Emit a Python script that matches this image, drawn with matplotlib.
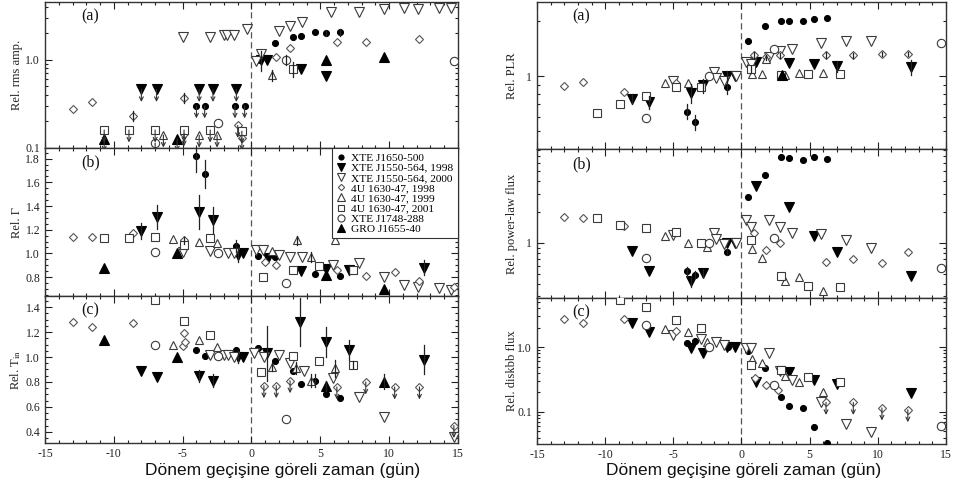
import matplotlib
matplotlib.use('Agg')
import matplotlib.pyplot as plt
import matplotlib.transforms as mtransforms
from matplotlib.ticker import MultipleLocator, LogLocator, NullFormatter, FixedLocator, FixedFormatter
from matplotlib.lines import Line2D

plt.rcParams['font.family'] = ['Liberation Serif', 'DejaVu Serif']
plt.rcParams['mathtext.fontset'] = 'stix'

# ---------------- data: (time, value, error) ; upper limits: (time, value) ----------------
series_keys = ['J1650', 'J1550a', 'J1550b', 'U98', 'U99', 'U01', 'J1748', 'GRO']
legend_labels = ['XTE J1650-500', 'XTE J1550-564, 1998', 'XTE J1550-564, 2000',
                 '4U 1630-47, 1998', '4U 1630-47, 1999', '4U 1630-47, 2001',
                 'XTE J1748-288', 'GRO J1655-40']

# Left (a) rel. rms amplitude
la_J1650 = [(0.5, 1.0, 0), (1.7, 1.53, 0), (3.0, 1.79, 0), (3.6, 1.84, 0), (4.6, 2.04, 0), (5.4, 2.0, 0.15), (6.4, 2.04, 0.2)]
la_J1650_ul = [(-4.0, 0.30), (-3.4, 0.30), (-1.2, 0.30), (-0.5, 0.30)]
la_J1550a = [(0.7, 1.0, 0.25), (1.1, 1.0, 0), (3.6, 0.79, 0), (5.4, 0.65, 0)]
la_J1550a_ul = [(-8.0, 0.46), (-6.9, 0.46), (-3.8, 0.46), (-2.8, 0.46), (-1.1, 0.46)]
la_J1550b = [(-5.0, 1.79, 0), (-3.0, 1.79, 0), (-2.0, 1.89, 0), (-1.8, 1.89, 0), (-1.3, 1.89, 0), (-0.3, 2.2, 0),
             (0.3, 0.97, 0), (0.7, 1.17, 0), (2.0, 2.1, 0), (2.8, 2.4, 0), (3.7, 2.66, 0), (5.8, 3.47, 0),
             (7.8, 3.47, 0), (9.6, 3.75, 0), (11.1, 3.85, 0), (12.1, 3.75, 0), (13.6, 3.8, 0), (14.5, 3.85, 0)]
la_U98 = [(-13.0, 0.28, 0), (-11.6, 0.33, 0), (-8.6, 0.23, 0.03), (-4.9, 0.37, 0.05), (1.8, 1.08, 0),
          (2.8, 1.34, 0), (6.2, 1.57, 0), (8.3, 1.57, 0), (12.2, 1.7, 0)]
la_U98_ul = [(-4.9, 0.145), (-1.0, 0.18), (-0.7, 0.13)]
la_U99 = [(1.5, 0.67, 0.1)]
la_U99_ul = [(-6.4, 0.14), (-3.8, 0.14), (-2.5, 0.14)]
la_U01 = [(3.0, 0.79, 0.15)]
la_U01_ul = [(-10.7, 0.16), (-8.9, 0.16), (-7.0, 0.16), (-4.9, 0.16), (-3.0, 0.16), (-0.7, 0.155)]
la_J1748 = [(-2.4, 0.19, 0), (2.5, 1.0, 0.12), (14.7, 0.97, 0)]
la_J1748_ul = [(-7.0, 0.114)]
la_GRO = [(5.4, 1.0, 0), (9.6, 1.08, 0)]
la_GRO_ul = [(-10.7, 0.127), (-5.4, 0.127)]

# Left (b) rel. Gamma
lb_J1650 = [(-4.0, 1.82, 0.13), (-3.4, 1.67, 0.12), (-1.1, 1.06, 0.05), (0.5, 0.98, 0), (1.7, 0.97, 0),
            (3.0, 0.86, 0), (4.6, 0.83, 0), (6.4, 0.81, 0)]
lb_J1550a = [(-8.0, 1.19, 0.07), (-6.9, 1.31, 0.1), (-3.8, 1.35, 0.14), (-2.8, 1.28, 0.11), (-1.0, 0.99, 0.06),
             (-0.6, 1.0, 0), (1.2, 0.96, 0), (3.6, 0.85, 0), (5.4, 0.87, 0), (7.1, 0.86, 0.04), (12.5, 0.88, 0.06)]
lb_J1550b = [(-5.0, 1.01, 0), (-3.0, 1.02, 0), (-1.7, 1.0, 0), (-1.3, 1.0, 0), (0.3, 1.03, 0), (0.8, 1.03, 0),
             (2.0, 0.99, 0), (2.8, 0.97, 0), (3.7, 0.97, 0), (5.9, 0.9, 0), (7.8, 0.92, 0), (9.6, 0.8, 0),
             (11.1, 0.73, 0), (12.1, 0.72, 0), (13.6, 0.71, 0), (14.5, 0.69, 0)]
lb_U98 = [(-13.0, 1.14, 0), (-11.6, 1.14, 0), (-8.6, 1.17, 0), (-4.9, 1.11, 0.03), (1.0, 0.93, 0), (1.8, 0.9, 0),
          (6.2, 0.86, 0), (8.3, 0.81, 0), (10.4, 0.84, 0), (12.2, 0.77, 0), (14.7, 0.72, 0)]
lb_U99 = [(-5.7, 1.12, 0), (-3.8, 1.10, 0), (-2.5, 1.09, 0), (1.5, 1.02, 0), (3.3, 1.11, 0.04), (4.3, 0.97, 0.04),
          (6.1, 1.11, 0)]
lb_U01 = [(-10.7, 1.13, 0), (-8.9, 1.13, 0), (-7.0, 1.14, 0), (-4.9, 1.07, 0), (-3.0, 1.13, 0), (0.8, 0.8, 0),
          (3.0, 0.86, 0), (4.9, 0.89, 0), (7.4, 0.86, 0)]
lb_J1748 = [(-7.0, 1.01, 0), (-2.4, 1.0, 0), (2.5, 0.75, 0)]
lb_GRO = [(-10.7, 0.88, 0), (-5.4, 1.0, 0), (5.4, 0.82, 0), (9.6, 0.70, 0)]

# Left (c) rel. T_in
lc_J1650 = [(-4.0, 1.06, 0), (-3.4, 1.01, 0), (-1.1, 1.06, 0), (0.5, 1.07, 0), (1.7, 0.97, 0), (3.0, 0.89, 0),
            (3.6, 0.78, 0), (4.6, 0.81, 0.05), (5.4, 0.70, 0), (6.4, 0.67, 0)]
lc_J1550a = [(-8.0, 0.89, 0), (-6.9, 0.84, 0), (-3.8, 0.85, 0.05), (-2.8, 0.81, 0.05), (-1.0, 1.0, 0.05),
             (-0.6, 1.0, 0), (1.1, 1.03, 0.22), (3.5, 1.28, 0.19), (5.4, 1.12, 0.12), (7.1, 1.06, 0.08),
             (12.5, 0.98, 0.12)]
lc_J1550b = [(-3.0, 1.02, 0), (-2.0, 1.02, 0), (-1.7, 1.02, 0), (-1.3, 1.0, 0), (0.2, 1.03, 0), (0.9, 1.0, 0),
             (2.0, 1.02, 0), (2.8, 0.95, 0), (3.8, 0.89, 0), (5.9, 0.83, 0), (7.8, 0.68, 0), (9.6, 0.52, 0),
             (14.7, 0.36, 0)]
lc_U98 = [(-13.0, 1.28, 0), (-11.6, 1.24, 0), (-8.6, 1.27, 0), (-4.9, 1.19, 0), (-5.0, 1.09, 0), (-4.8, 1.12, 0)]
lc_U98_ul = [(0.9, 0.77), (1.8, 0.77), (2.8, 0.81), (6.2, 0.76), (8.3, 0.80), (10.4, 0.76), (12.2, 0.76), (14.7, 0.45)]
lc_U99 = [(-5.7, 1.1, 0), (-3.8, 1.14, 0), (-2.5, 1.08, 0), (1.5, 0.92, 0.03), (3.2, 0.91, 0.05),
          (4.3, 0.81, 0.05), (6.1, 0.91, 0.07)]
lc_U01 = [(-7.0, 1.46, 0), (-4.9, 1.29, 0), (-3.0, 1.18, 0), (0.7, 0.88, 0), (3.0, 1.01, 0), (4.9, 0.97, 0),
          (7.4, 0.94, 0.03)]
lc_J1748 = [(-7.0, 1.1, 0), (-2.4, 1.01, 0), (2.5, 0.5, 0)]
lc_GRO = [(-10.7, 1.14, 0), (-5.4, 1.0, 0), (5.4, 0.77, 0.04), (9.6, 0.8, 0.06)]

# Right (a) rel. PLR
ra_J1650 = [(-4.0, 0.64, 0.06), (-3.4, 0.56, 0.05), (-1.1, 0.87, 0.07), (0.5, 1.55, 0), (1.7, 1.88, 0),
            (2.9, 2.0, 0), (3.5, 2.0, 0), (4.5, 2.0, 0), (5.3, 2.05, 0), (6.3, 2.07, 0)]
ra_J1550a = [(-8.0, 0.75, 0.05), (-6.8, 0.72, 0.06), (-3.7, 0.81, 0.1), (-2.8, 0.89, 0.08), (-1.1, 1.0, 0.06),
             (-0.5, 1.0, 0), (1.1, 1.19, 0), (3.5, 1.18, 0), (5.3, 1.16, 0), (7.0, 1.13, 0.08), (12.4, 1.12, 0.1)]
ra_J1550b = [(-5.0, 0.94, 0), (-2.0, 1.05, 0), (-1.9, 0.98, 0), (-1.3, 0.94, 0), (-0.4, 1.0, 0), (0.3, 1.19, 0),
             (0.7, 1.16, 0), (2.0, 1.27, 0), (2.8, 1.37, 0), (3.7, 1.4, 0), (5.8, 1.51, 0), (7.7, 1.55, 0),
             (9.5, 1.55, 0)]
ra_U98 = [(-13.0, 0.88, 0), (-11.6, 0.93, 0), (-8.6, 0.82, 0), (-4.8, 0.92, 0), (0.9, 1.3, 0.06),
          (1.8, 1.27, 0.04), (2.8, 1.3, 0.04), (6.2, 1.3, 0.05), (8.2, 1.3, 0.04), (10.3, 1.32, 0.04),
          (12.2, 1.32, 0.04)]
ra_U99 = [(-5.6, 0.92, 0), (-3.9, 0.92, 0), (0.8, 1.03, 0), (1.5, 1.03, 0), (1.8, 1.24, 0), (3.2, 1.01, 0),
          (4.2, 1.04, 0), (6.0, 1.04, 0)]
ra_U01 = [(-10.6, 0.63, 0), (-8.9, 0.70, 0), (-7.0, 0.78, 0), (-4.8, 0.87, 0), (-3.0, 0.87, 0),
          (0.7, 1.09, 0.05), (2.9, 1.01, 0), (4.9, 1.03, 0), (7.2, 1.03, 0)]
ra_J1748 = [(-7.0, 0.59, 0), (-2.4, 1.0, 0), (2.4, 1.4, 0), (14.6, 1.51, 0)]
ra_GRO = [(3.0, 1.02, 0)]

# Right (b) rel. power-law flux
rb_J1650 = [(-4.8, 1.25, 0), (-4.0, 0.53, 0.05), (-3.4, 0.49, 0.04), (-1.1, 0.82, 0.06), (0.5, 2.8, 0),
            (1.7, 4.6, 0), (2.9, 6.8, 0), (3.5, 6.7, 0), (4.5, 6.4, 0), (5.3, 6.8, 0), (6.3, 6.5, 0)]
rb_J1550a = [(-8.0, 0.84, 0), (-6.8, 0.53, 0), (-3.7, 0.42, 0.05), (-2.8, 0.51, 0.05), (-1.1, 1.0, 0),
             (-0.5, 1.0, 0), (1.1, 3.6, 0), (3.5, 2.24, 0), (5.3, 1.17, 0), (7.0, 0.82, 0), (12.4, 0.47, 0)]
rb_J1550b = [(-5.0, 1.2, 0), (-2.0, 1.25, 0), (-1.9, 1.09, 0), (-1.3, 0.98, 0), (-0.4, 1.0, 0), (0.3, 1.67, 0),
             (0.7, 1.43, 0), (2.0, 1.67, 0), (2.8, 1.43, 0), (3.7, 1.25, 0), (5.8, 1.22, 0), (7.7, 1.07, 0),
             (9.5, 0.89, 0)]
rb_U98 = [(-13.0, 1.79, 0), (-11.6, 1.75, 0), (-8.6, 1.46, 0), (0.9, 1.25, 0), (1.8, 0.85, 0), (2.8, 1.0, 0),
          (6.2, 0.65, 0), (8.2, 0.70, 0), (10.3, 0.64, 0), (12.2, 0.82, 0)]
rb_U99 = [(-5.6, 1.17, 0), (-3.9, 1.0, 0), (-2.5, 0.91, 0), (0.8, 0.87, 0), (1.5, 0.71, 0), (3.2, 0.42, 0),
          (4.2, 0.46, 0), (6.0, 0.34, 0)]
rb_U01 = [(-10.6, 1.75, 0), (-8.9, 1.5, 0), (-7.0, 1.4, 0), (-4.8, 1.28, 0), (-3.0, 1.0, 0), (0.7, 1.07, 0),
          (2.9, 0.47, 0), (4.9, 0.38, 0), (7.2, 0.37, 0)]
rb_J1748 = [(-7.0, 0.71, 0), (-2.4, 1.0, 0), (2.4, 1.12, 0), (14.6, 0.57, 0)]

# Right (c) rel. diskbb flux
rc_J1650 = [(-4.0, 1.15, 0), (-3.4, 1.24, 0), (-1.0, 1.0, 0), (0.5, 0.87, 0), (1.7, 0.48, 0), (2.9, 0.17, 0),
            (3.5, 0.124, 0), (4.5, 0.115, 0), (5.3, 0.059, 0), (6.3, 0.033, 0)]
rc_J1550a = [(-8.0, 2.34, 0), (-6.8, 1.7, 0), (-3.7, 0.96, 0), (-2.8, 0.81, 0), (-1.1, 1.0, 0), (-0.5, 1.0, 0),
             (1.1, 0.29, 0), (3.5, 0.41, 0), (5.3, 0.31, 0), (7.0, 0.27, 0), (12.4, 0.196, 0)]
rc_J1550b = [(-5.0, 1.53, 0), (-3.0, 1.33, 0), (-1.9, 1.19, 0), (-1.3, 1.07, 0), (0.3, 0.96, 0), (0.7, 0.95, 0),
             (2.0, 0.81, 0), (2.8, 0.43, 0), (3.7, 0.31, 0), (5.8, 0.14, 0), (7.7, 0.065, 0), (9.5, 0.049, 0)]
rc_U98 = [(-13.0, 2.7, 0), (-11.6, 2.34, 0), (-8.6, 2.7, 0), (-4.8, 1.76, 0), (1.0, 0.33, 0), (1.8, 0.26, 0),
          (2.7, 0.22, 0)]
rc_U98_ul = [(6.2, 0.14), (8.2, 0.14), (10.3, 0.115), (12.2, 0.108)]
rc_U99 = [(-5.6, 1.9, 0), (-3.9, 1.7, 0), (-2.5, 1.2, 0), (0.8, 0.65, 0), (1.5, 0.57, 0), (3.2, 0.36, 0),
          (4.2, 0.29, 0), (6.0, 0.2, 0)]
rc_U01 = [(-8.9, 5.3, 0), (-7.0, 4.1, 0), (-4.8, 2.6, 0), (-3.0, 1.96, 0), (0.7, 0.53, 0), (2.9, 0.44, 0),
          (4.9, 0.35, 0), (7.2, 0.29, 0)]
rc_J1748 = [(-7.0, 2.2, 0), (-2.4, 1.0, 0), (2.4, 0.26, 0), (14.6, 0.061, 0)]

xlabel_text = 'Dönem geçişine göreli zaman (gün)'

# ---------------- styles ----------------
OPEN = '#3a3a3a'
STY = {
    'J1650': dict(marker='o', ms=4.3, mfc='k', mec='k', mew=0.8),
    'J1550a': dict(marker='v', ms=6.5, mfc='k', mec='k', mew=0.8),
    'J1550b': dict(marker='v', ms=6.5, mfc='white', mec=OPEN, mew=0.8),
    'U98': dict(marker='D', ms=3.8, mfc='white', mec='#555555', mew=0.8),
    'U99': dict(marker='^', ms=6.0, mfc='white', mec=OPEN, mew=0.8),
    'U01': dict(marker='s', ms=5.5, mfc='white', mec=OPEN, mew=0.8),
    'J1748': dict(marker='o', ms=6.0, mfc='white', mec=OPEN, mew=0.8),
    'GRO': dict(marker='^', ms=6.5, mfc='k', mec='k', mew=0.8),
}

fig = plt.figure(figsize=(9.54, 4.92), dpi=100)
W, H = 954.0, 492.0


def add_ax(x0, x1, ytop, ybot):
    return fig.add_axes([x0 / W, 1 - ybot / H, (x1 - x0) / W, (ybot - ytop) / H])


axL = [add_ax(45, 458, 2, 148), add_ax(45, 458, 148, 296), add_ax(45, 458, 296, 443)]
axR = [add_ax(537, 946, 2, 149), add_ax(537, 946, 149, 298), add_ax(537, 946, 298, 444)]


def draw(ax, pts_by, ul_by):
    tr = mtransforms.offset_copy(ax.transData, fig=fig, x=0, y=-9, units='points')
    for key in series_keys:
        pts = pts_by.get(key, [])
        if pts:
            ax.plot([p[0] for p in pts], [p[1] for p in pts], ls='none', zorder=3, **STY[key])
            for t, v, e in pts:
                if e > 0:
                    ax.plot([t, t], [v - e, v + e], color='#222222', lw=0.9, zorder=4)
        uls = ul_by.get(key, [])
        if uls:
            ax.plot([p[0] for p in uls], [p[1] for p in uls], ls='none', zorder=3, **STY[key])
            for t, v in uls:
                ax.annotate('', xy=(t, v), xycoords=tr, xytext=(t, v), textcoords='data',
                            arrowprops=dict(arrowstyle='->', color='#333333', lw=0.8,
                                            shrinkA=0, shrinkB=0, mutation_scale=7), zorder=4)


draw(axL[0], dict(J1650=la_J1650, J1550a=la_J1550a, J1550b=la_J1550b, U98=la_U98, U99=la_U99, U01=la_U01,
                  J1748=la_J1748, GRO=la_GRO),
     dict(J1650=la_J1650_ul, J1550a=la_J1550a_ul, U98=la_U98_ul, U99=la_U99_ul, U01=la_U01_ul,
          J1748=la_J1748_ul, GRO=la_GRO_ul))
draw(axL[1], dict(J1650=lb_J1650, J1550a=lb_J1550a, J1550b=lb_J1550b, U98=lb_U98, U99=lb_U99, U01=lb_U01,
                  J1748=lb_J1748, GRO=lb_GRO), {})
draw(axL[2], dict(J1650=lc_J1650, J1550a=lc_J1550a, J1550b=lc_J1550b, U98=lc_U98, U99=lc_U99, U01=lc_U01,
                  J1748=lc_J1748, GRO=lc_GRO), dict(U98=lc_U98_ul))
draw(axR[0], dict(J1650=ra_J1650, J1550a=ra_J1550a, J1550b=ra_J1550b, U98=ra_U98, U99=ra_U99, U01=ra_U01,
                  J1748=ra_J1748, GRO=ra_GRO), {})
draw(axR[1], dict(J1650=rb_J1650, J1550a=rb_J1550a, J1550b=rb_J1550b, U98=rb_U98, U99=rb_U99, U01=rb_U01,
                  J1748=rb_J1748), {})
draw(axR[2], dict(J1650=rc_J1650, J1550a=rc_J1550a, J1550b=rc_J1550b, U98=rc_U98, U99=rc_U99, U01=rc_U01,
                  J1748=rc_J1748), dict(U98=rc_U98_ul))

TICKC = '#222222'
for i, ax in enumerate(axL + axR):
    ax.set_xlim(-15, 15)
    ax.xaxis.set_major_locator(MultipleLocator(5))
    ax.xaxis.set_minor_locator(MultipleLocator(1))
    ax.axvline(0, color='#555555', ls=(0, (5, 3)), lw=0.9, zorder=1)
    ax.tick_params(which='both', direction='in', top=True, right=True, colors=TICKC,
                   labelsize=8.5, width=0.8)
    ax.tick_params(which='major', length=5)
    ax.tick_params(which='minor', length=2.5)
    for s in ax.spines.values():
        s.set_color('#333333')
        s.set_linewidth(1.0)
    if i % 3 != 2:
        ax.tick_params(labelbottom=False)

# y axes
def set_log(ax, lo, hi, majors, labels):
    ax.set_yscale('log')
    ax.set_ylim(lo, hi)
    ax.yaxis.set_major_locator(FixedLocator(majors))
    ax.yaxis.set_major_formatter(FixedFormatter(labels))
    ax.yaxis.set_minor_locator(LogLocator(base=10, subs=range(2, 10), numticks=20))
    ax.yaxis.set_minor_formatter(NullFormatter())


set_log(axL[0], 0.1, 4.5, [0.1, 1.0], ['0.1', '1.0'])
axL[1].set_ylim(0.64, 1.89)
axL[1].set_yticks([0.8, 1.0, 1.2, 1.4, 1.6, 1.8])
axL[1].yaxis.set_major_formatter(FixedFormatter(['0.8', '1.0', '1.2', '1.4', '1.6', '1.8']))
axL[1].yaxis.set_minor_locator(MultipleLocator(0.05))
axL[2].set_ylim(0.31, 1.49)
axL[2].set_yticks([0.4, 0.6, 0.8, 1.0, 1.2, 1.4])
axL[2].yaxis.set_major_formatter(FixedFormatter(['0.4', '0.6', '0.8', '1.0', '1.2', '1.4']))
axL[2].yaxis.set_minor_locator(MultipleLocator(0.05))
set_log(axR[0], 0.4, 2.54, [1.0], ['1'])
set_log(axR[1], 0.29, 8.2, [1.0], ['1'])
set_log(axR[2], 0.032, 5.7, [0.1, 1.0], ['0.1', '1.0'])

ylabels_L = ['Rel. rms amp.', 'Rel. Γ', 'Rel. T$_{\\mathrm{in}}$']
ylabels_R = ['Rel. PLR', 'Rel. power-law flux', 'Rel. diskbb flux']
for ax, lab in zip(axL, ylabels_L):
    ax.set_ylabel(lab, fontsize=9, color=TICKC)
    ax.yaxis.set_label_coords(-0.053, 0.5)
for ax, lab in zip(axR, ylabels_R):
    ax.set_ylabel(lab, fontsize=9, color=TICKC)
    ax.yaxis.set_label_coords(-0.047, 0.5)

for ax, lab in zip(axL + axR, ['(a)', '(b)', '(c)'] * 2):
    ax.text(0.087, 0.9, lab, transform=ax.transAxes, fontsize=11.5, va='center', ha='left', color='#111111')

for ax in axL + axR:
    ax.set_xticks([-15, -10, -5, 0, 5, 10, 15])
axL[2].set_xticklabels(['-15', '-10', '-5', '0', '5', '10', '15'])
axR[2].set_xticklabels(['-15', '-10', '-5', '0', '5', '10', '15'])

# legend
handles = [Line2D([], [], ls='none', **dict(STY[k], ms=STY[k]['ms'] * 0.85)) for k in series_keys]
leg = axL[1].legend(handles, legend_labels, loc='upper right', bbox_to_anchor=(1.0, 1.0),
                    borderaxespad=0, fontsize=8.2, frameon=True, fancybox=False, framealpha=1,
                    edgecolor='#333333', handlelength=0.8, handletextpad=0.5, labelspacing=0.02,
                    borderpad=0.4)
leg.get_frame().set_linewidth(0.8)
leg.set_zorder(10)

fig.text(283 / W, 1 - 471 / H, xlabel_text, ha='center', va='center', fontsize=12.5,
         family=['Liberation Sans', 'DejaVu Sans'], color='#111111')
fig.text(744 / W, 1 - 471 / H, xlabel_text, ha='center', va='center', fontsize=12.5,
         family=['Liberation Sans', 'DejaVu Sans'], color='#111111')

fig.savefig('out.png', dpi=100)
